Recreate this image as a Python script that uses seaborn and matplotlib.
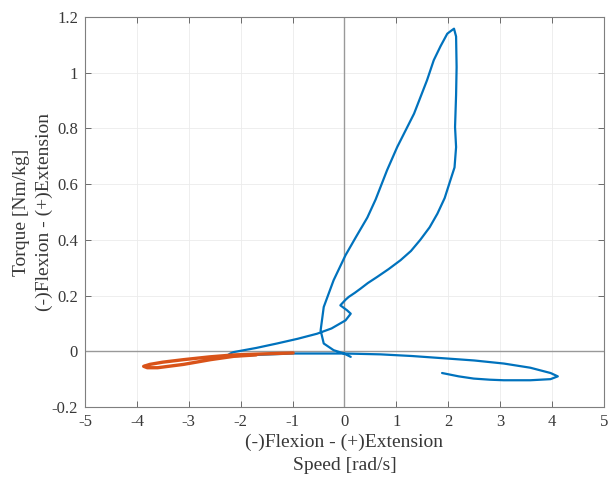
import matplotlib
matplotlib.use("Agg")
import matplotlib.pyplot as plt
import seaborn as sns
import pandas as pd

# Blue curve (speed rad/s, torque Nm/kg) traced in order
blue_speed = [1.88, 2.2, 2.49, 2.8, 3.07, 3.58, 3.97, 4.11, 3.97, 3.58, 3.07, 2.5, 1.98, 1.3,
              0.69, 0.0, -1.0, -1.7, -2.3, -2.2, -2.14, -1.70, -1.30, -0.90, -0.53, -0.25,
              0.02, 0.12, 0.05, -0.08, 0.02, 0.08, 0.20, 0.31, 0.45, 0.63, 0.85, 1.08, 1.28,
              1.46, 1.64, 1.79, 1.93, 2.04, 2.12, 2.15, 2.13, 2.15, 2.16, 2.15, 2.11, 2.05,
              1.98, 1.85, 1.72, 1.59, 1.34, 1.015, 0.82, 0.60, 0.44, 0.22, 0.02, -0.21,
              -0.40, -0.46, -0.40, -0.21, -0.01, 0.12]
blue_torque = [-0.078, -0.090, -0.098, -0.102, -0.104, -0.104, -0.100, -0.090, -0.078, -0.059,
               -0.044, -0.033, -0.026, -0.017, -0.011, -0.008, -0.008, -0.013, -0.020, -0.008,
               -0.003, 0.012, 0.028, 0.045, 0.063, 0.082, 0.111, 0.135, 0.147, 0.165, 0.185,
               0.195, 0.210, 0.225, 0.245, 0.267, 0.295, 0.327, 0.360, 0.400, 0.445, 0.494,
               0.550, 0.614, 0.660, 0.733, 0.805, 0.920, 1.020, 1.130, 1.158, 1.150, 1.140,
               1.095, 1.045, 0.973, 0.853, 0.733, 0.650, 0.545, 0.480, 0.410, 0.345,
               0.255, 0.159, 0.075, 0.028, 0.004, -0.008, -0.020]

# Orange curve
orange_speed = [-0.99, -1.5, -2.13, -2.6, -3.1, -3.5, -3.75, -3.87, -3.8, -3.6, -3.1, -2.58,
                -2.13, -1.7]
orange_torque = [-0.006, -0.009, -0.013, -0.020, -0.030, -0.039, -0.047, -0.054, -0.059,
                 -0.059, -0.047, -0.030, -0.018, -0.013]

x_ticks = [-5, -4, -3, -2, -1, 0, 1, 2, 3, 4, 5]
y_ticks = [-0.2, 0, 0.2, 0.4, 0.6, 0.8, 1.0, 1.2]
y_tick_labels = ["-0.2", "0", "0.2", "0.4", "0.6", "0.8", "1", "1.2"]
x_tick_labels = [str(v) for v in x_ticks]

sns.set_theme(style="white")
plt.rcParams["font.family"] = ["Liberation Serif", "DejaVu Serif"]

TEXT = "#383838"

fig = plt.figure(figsize=(6.09, 4.80), dpi=100)
ax = fig.add_axes([85 / 609, 73 / 480, 519 / 609, 390 / 480])

ax.axhline(0, color="#999999", lw=1.0, zorder=1)
ax.axvline(0, color="#999999", lw=1.0, zorder=1)

dfb = pd.DataFrame({"speed": blue_speed, "torque": blue_torque})
dfo = pd.DataFrame({"speed": orange_speed, "torque": orange_torque})
sns.lineplot(data=dfb, x="speed", y="torque", sort=False, estimator=None, ax=ax,
             color="#0072BD", lw=1.6, zorder=3)
sns.lineplot(data=dfo, x="speed", y="torque", sort=False, estimator=None, ax=ax,
             color="#D95319", lw=2.4, zorder=4)

ax.set_xlim(-5, 5)
ax.set_ylim(-0.2, 1.2)
ax.set_xticks(x_ticks)
ax.set_xticklabels(x_tick_labels)
ax.set_yticks(y_ticks)
ax.set_yticklabels(y_tick_labels)
ax.grid(True, color="#ebebeb", lw=0.6, zorder=0)
ax.set_axisbelow(True)
ax.tick_params(direction="in", length=4, width=0.6, color="#555555", labelcolor=TEXT,
               labelsize=12, top=True, right=True, bottom=True, left=True, pad=5)
for s in ax.spines.values():
    s.set_color("#7f7f7f")
    s.set_linewidth(0.8)
    s.set_visible(True)

ax.set_xlabel("(-)Flexion - (+)Extension\nSpeed [rad/s]", fontsize=14, linespacing=1.4,
              labelpad=3, color=TEXT)
ax.set_ylabel("Torque [Nm/kg]\n(-)Flexion - (+)Extension", fontsize=14, linespacing=1.45,
              color=TEXT)
ax.yaxis.set_label_coords(-0.061, 0.5)

fig.savefig("out.png", dpi=100)
